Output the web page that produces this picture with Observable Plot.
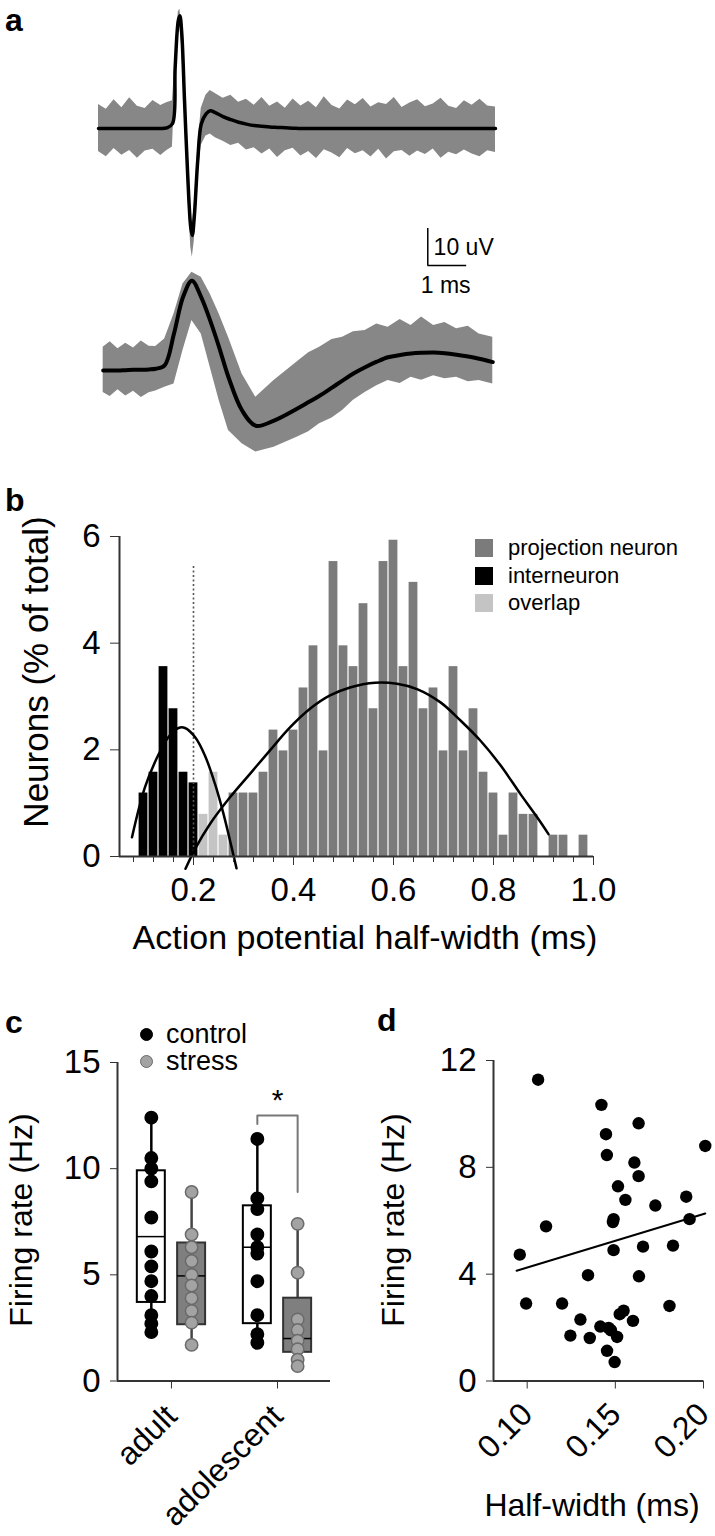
<!DOCTYPE html>
<html><head><meta charset="utf-8">
<script src="https://cdn.jsdelivr.net/npm/d3@7"></script>
<script src="https://cdn.jsdelivr.net/npm/@observablehq/plot@0.6"></script>
<style>
body{margin:0;background:#fff;}
#root{position:relative;width:715px;height:1536px;overflow:hidden;font-family:"Liberation Sans",Arial,sans-serif;color:#000;background:#fff;}
</style></head><body><div id="root"></div>
<script>
// ---------- Panel a: spike waveforms (time in ms, amplitude in uV) ----------
const aTopT    = [0,0.2,0.4,0.6,0.8,1.0,1.2,1.4,1.6,1.75,1.9,1.97,2.05,2.09,2.14,2.21,2.29,2.37,2.41,2.46,2.55,2.64,2.76,2.87,3.0,3.2,3.4,3.6,3.8,4.0,4.2,4.4,4.6,4.8,5.0,5.2,5.4,5.6,5.8,6.0,6.2,6.4,6.6,6.8,7.0,7.2,7.4,7.6,7.8,8.0,8.2,8.4,8.6,8.8,9.0,9.2,9.4,9.6,9.8,10.0,10.2];
const aTopMean = [0,0,0,0,0,0,0,0,0,0.2,1.3,16.6,29.2,30.5,25.6,7.6,-12.2,-26.7,-28.9,-24,-8.6,1.2,3.9,4.8,4.3,3.2,2.4,1.7,1.2,0.8,0.6,0.4,0.3,0.2,0.1,0,0,0,0,0,0,0,0,0,0,0,0,0,0,0,0,0,0,0,0,0,0,0,0,0,0];
const aTopHi   = [6.5,5.2,7.8,5.6,8.3,6.0,5.4,7.6,6.2,7.0,7.5,18.5,31.5,32.3,28.0,10.5,-9.0,-23.5,-26.0,-21.0,-5.0,5.5,9.0,10.3,9.5,8.2,9.0,7.1,7.9,6.3,8.4,6.0,7.2,5.5,8.0,6.1,7.4,5.6,8.6,6.2,5.3,7.7,6.4,8.1,5.8,7.0,6.5,8.4,5.7,6.9,7.8,5.9,6.6,8.2,6.0,5.4,7.5,6.3,7.9,6.1,5.8];
const aTopLo   = [-6.2,-7.6,-5.4,-7.2,-5.9,-8.0,-6.1,-5.6,-7.3,-6.0,-5.0,13.0,26.0,27.5,22.0,4.0,-16.0,-32.0,-34.8,-30.5,-13.0,-4.5,-2.0,-1.5,-2.5,-3.4,-4.6,-4.0,-5.8,-5.2,-6.9,-5.5,-7.8,-6.0,-5.3,-7.4,-6.2,-8.1,-5.7,-6.6,-7.9,-5.4,-6.8,-6.0,-7.7,-5.6,-8.2,-6.3,-5.9,-7.5,-6.1,-7.0,-5.5,-8.0,-6.4,-7.1,-5.8,-6.9,-7.6,-6.0,-6.5];
const aBotT    = [0.12,0.3,0.5,0.7,0.9,1.1,1.3,1.47,1.7,1.94,2.17,2.4,2.64,2.87,3.1,3.34,3.69,4.04,4.51,5.1,5.4,5.68,6.0,6.27,6.55,6.85,7.15,7.44,7.75,8.03,8.3,8.61,8.9,9.2,9.5,9.78,10.13];
const aBotMean = [0,0,0,0.1,0.2,0.2,0.3,0.5,1.4,10,19.8,24.3,19.8,13.5,6.3,-1.8,-10.8,-14.9,-13.5,-10.3,-8.5,-6.8,-4.6,-2.7,-0.8,0.9,2.4,3.6,4.2,4.6,4.8,4.9,4.7,4.3,3.8,3.2,2.3];
const aBotHi   = [6.3,7.8,5.9,7.4,6.1,8.0,6.6,6.5,8.5,15.3,23.4,26.6,25.2,20.7,15.3,9.0,-0.9,-7.2,-2.7,2.3,4.8,6.3,8.4,9.0,10.5,10.8,12.6,11.7,13.8,12.2,14.5,12.2,13.0,11.3,12.0,9.9,9.0];
const aBotLo   = [-5.9,-7.0,-5.2,-6.9,-5.6,-7.3,-6.0,-5.5,-4.5,-3.6,5.4,13.5,9.9,0.9,-8.1,-16.2,-19.8,-22,-20.7,-18,-16.5,-14.4,-12.8,-10.8,-8.0,-5.9,-4.1,-2.7,-3.5,-1.8,-2.6,-1.4,-2.2,-1.8,-3.0,-2.7,-3.6];
const aScaleMs = 1, aScaleUv = 10;

// ---------- Panel b: half-width histogram (% of total) ----------
const interCenters   = [0.10,0.12,0.14,0.16,0.18,0.20];
const interPct       = [1.19,1.58,3.56,2.77,1.58,1.38];
const overlapCenters = [0.22,0.24,0.26];
const overlapPct     = [0.79,1.58,0.40];
const projCenters    = [0.28,0.30,0.32,0.34,0.36,0.38,0.40,0.42,0.44,0.46,0.48,0.50,0.52,0.54,0.56,0.58,0.60,0.62,0.64,0.66,0.68,0.70,0.72,0.74,0.76,0.78,0.80,0.82,0.84,0.86,0.88,0.92,0.94,0.98];
const projPct        = [1.19,1.19,1.19,1.58,2.37,1.98,2.37,3.16,3.95,1.98,5.53,3.95,3.56,4.74,2.77,5.53,5.93,3.56,5.14,2.77,3.16,1.98,3.56,1.98,2.77,1.58,1.19,0.40,1.19,0.79,0.79,0.40,0.40,0.40];
const interFitX = [0.077,0.103,0.131,0.150,0.170,0.183,0.203,0.223,0.243,0.260,0.273,0.286];
const interFitY = [0.36,1.30,1.93,2.24,2.41,2.41,2.24,1.89,1.36,0.80,0.30,-0.22];
const projFitX  = [0.184,0.203,0.233,0.273,0.313,0.353,0.393,0.433,0.473,0.513,0.563,0.607,0.647,0.694,0.734,0.774,0.814,0.854,0.887,0.910];
const projFitY  = [-0.23,0.14,0.61,1.11,1.55,1.99,2.42,2.77,3.02,3.17,3.26,3.24,3.14,2.89,2.55,2.17,1.71,1.17,0.74,0.42];
const cutoffHW = 0.2, cutoffTop = 5.45;
const bXTicks = [0.2,0.4,0.6,0.8,1.0];
const bYTicks = [0,2,4,6];
const bLegend = ["projection neuron","interneuron","overlap"];

// ---------- Panel c: firing rate by age and condition ----------
const cGroups = ["adult","adolescent"];
const cConds  = ["control","stress"];
const cAdultControl = [12.4,10.5,10.0,9.4,7.7,6.1,5.4,4.7,4.0,3.1,2.7,2.3];
const cAdultStress  = [8.9,6.9,6.3,5.65,5.0,4.5,3.9,3.3,2.75,1.7];
const cAdolControl  = [11.4,8.6,8.1,6.9,6.3,6.0,4.7,3.1,2.2,1.8];
const cAdolStress   = [7.4,5.1,2.9,2.4,1.9,1.5,1.0,0.7];
// box stats: adult-control, adult-stress, adolescent-control, adolescent-stress
const cWhiskLo = [2.3,1.7,1.8,0.7];
const cQ1      = [3.7,2.65,2.7,1.35];
const cMed     = [6.8,4.95,6.3,2.0];
const cQ3      = [9.9,6.5,8.25,3.9];
const cWhiskHi = [12.4,8.9,11.4,7.4];
const cSigY    = [12.1,12.5,12.5,8.9];
const cStarY   = 13.2;
const cYTicks  = [0,5,10,15];

// ---------- Panel d: firing rate vs half-width ----------
const dHalfWidth = [0.1062,0.1421,0.1632,0.1447,0.2010,0.1452,0.1608,0.1632,0.1515,0.1557,0.1727,0.1902,0.1490,0.1486,0.1921,0.1107,0.0958,0.1490,0.1657,0.1827,0.1345,0.1634,0.0994,0.1198,0.1807,0.1302,0.1547,0.1600,0.1245,0.1355,0.1415,0.1462,0.1510,0.1453,0.1496,0.1525,0.1475];
const dRate      = [11.28,10.34,9.65,9.24,8.80,8.46,8.18,7.67,7.29,6.78,6.57,6.90,6.06,5.95,6.06,5.79,4.73,4.90,5.03,5.07,3.96,3.92,2.90,2.90,2.81,2.30,2.63,2.25,1.70,1.61,2.04,1.99,1.65,1.13,0.71,2.50,1.90];
const dFitX = [0.094,0.201];
const dFitY = [4.13,6.27];
const dXTicks = [0.10,0.15,0.20];
const dYTicks = [0,4,8,12];

// ================= rendering =================
const root = document.getElementById("root");
const FONT = "Liberation Sans, Arial, sans-serif";
function place(el, left, top){ el.style.position="absolute"; el.style.left=left+"px"; el.style.top=top+"px"; root.appendChild(el); }
function addText(str, x, y, size, o={}){
  const d=document.createElement("div"); d.textContent=str;
  const tx = o.anchor==="start" ? "0" : "-50%";
  d.style.cssText=`position:absolute;left:${x}px;top:${y}px;font-size:${size}px;line-height:1.15;white-space:nowrap;font-weight:${o.bold?"bold":"normal"};transform:translate(${tx},-50%)${o.rotate?` rotate(${o.rotate}deg)`:""};`;
  root.appendChild(d);
}
const AX = "#333";

// ---- panel a ----
{
  const top = aTopT.map((t,i)=>({t, m:aTopMean[i], lo:aTopLo[i], hi:aTopHi[i]}));
  const off = -65.4; // vertical placement of the second unit
  const bot = aBotT.map((t,i)=>({t, m:aBotMean[i]+off, lo:aBotLo[i]+off, hi:aBotHi[i]+off}));
  const sbT = 8.46, sbV = -37;
  const p = Plot.plot({
    width:715, height:470, marginLeft:98, marginRight:220, marginTop:0, marginBottom:0,
    style:{fontFamily:FONT, background:"transparent", overflow:"visible"},
    x:{domain:[0,10.2], axis:null}, y:{domain:[-92.4,34.6], axis:null},
    marks:[
      Plot.areaY(top,{x:"t", y1:"lo", y2:"hi", fill:"#878787"}),
      Plot.line(top,{x:"t", y:"m", stroke:"#000", strokeWidth:3.5, curve:"catmull-rom"}),
      Plot.areaY(bot,{x:"t", y1:"lo", y2:"hi", fill:"#878787"}),
      Plot.line(bot,{x:"t", y:"m", stroke:"#000", strokeWidth:4, curve:"catmull-rom"}),
      Plot.ruleX([sbT],{y1:sbV, y2:sbV+aScaleUv, stroke:"#000", strokeWidth:1.5}),
      Plot.ruleY([sbV],{x1:sbT, x2:sbT+aScaleMs, stroke:"#000", strokeWidth:1.5}),
      Plot.text([aScaleUv+" uV"],{x:sbT+0.15, y:sbV+4.8, textAnchor:"start", fontSize:23}),
      Plot.text([aScaleMs+" ms"],{x:sbT-0.18, y:sbV-5.4, textAnchor:"start", fontSize:23})
    ]
  });
  place(p,0,0);
}

// ---- panel b ----
{
  const bw = 0.02;
  const mk = (cs,ps)=>cs.map((c,i)=>({c, pct:ps[i]}));
  const xDom=[0.052,1.0];
  const p = Plot.plot({
    width:715, height:490, marginLeft:119, marginRight:122, marginTop:66, marginBottom:104,
    style:{fontFamily:FONT, fontSize:"33px", background:"transparent", overflow:"visible"},
    x:{domain:xDom}, y:{domain:[0,6]},
    marks:[
      Plot.rect(mk(projCenters,projPct),{x1:d=>d.c-bw/2, x2:d=>d.c+bw/2, y1:0, y2:"pct", fill:"#7b7b7b", insetLeft:0.6, insetRight:0.6}),
      Plot.rect(mk(overlapCenters,overlapPct),{x1:d=>d.c-bw/2, x2:d=>d.c+bw/2, y1:0, y2:"pct", fill:"#c4c4c4", insetLeft:0.6, insetRight:0.6}),
      Plot.rect(mk(interCenters,interPct),{x1:d=>d.c-bw/2, x2:d=>d.c+bw/2, y1:0, y2:"pct", fill:"#000", insetLeft:0.6, insetRight:0.6}),
      Plot.ruleX([cutoffHW],{y1:0, y2:cutoffTop, stroke:"#555", strokeWidth:1.6, strokeDasharray:"2,2.5"}),
      Plot.line(interFitX.map((x,i)=>({x, y:interFitY[i]})),{x:"x", y:"y", stroke:"#000", strokeWidth:2.5, curve:"catmull-rom"}),
      Plot.line(projFitX.map((x,i)=>({x, y:projFitY[i]})),{x:"x", y:"y", stroke:"#000", strokeWidth:2.5, curve:"catmull-rom"}),
      Plot.ruleY([0],{stroke:AX, strokeWidth:2}),
      Plot.ruleX([xDom[0]],{y1:0, y2:6, stroke:AX, strokeWidth:2}),
      Plot.axisY({ticks:bYTicks, tickFormat:d3.format("d"), tickSize:9, tickPadding:10, label:null, stroke:AX}),
      Plot.axisX({ticks:bXTicks, tickFormat:d3.format(".1f"), tickSize:9, tickPadding:12, label:null, stroke:AX}),
      Plot.axisX({ticks:d3.range(0.08,1.0,0.04), tickFormat:()=>"", tickSize:6, label:null, stroke:AX})
    ]
  });
  place(p,0,470);
  addText("Neurons (% of total)", 36, 672, 35, {rotate:-90});
  addText("Action potential half-width (ms)", 365, 938, 34);
  const cols=["#7b7b7b","#000","#c4c4c4"];
  bLegend.forEach((s,i)=>{
    const sw=document.createElement("div");
    sw.style.cssText=`width:18px;height:18px;background:${cols[i]};`;
    place(sw,475,548+i*27.5-9);
    addText(s,508,548+i*27.5,22,{anchor:"start"});
  });
}

// ---- panel c ----
{
  const condOff=[-0.19,0.19], half=0.132;
  const series=[cAdultControl,cAdultStress,cAdolControl,cAdolStress];
  const boxes=series.map((v,k)=>{const g=Math.floor(k/2), c=k%2; return {g, c, pos:g+condOff[c], lo:cWhiskLo[k], q1:cQ1[k], med:cMed[k], q3:cQ3[k], hi:cWhiskHi[k]};});
  const pts=[]; series.forEach((v,k)=>v.forEach(val=>pts.push({pos:boxes[k].pos, c:boxes[k].c, val})));
  const br=[boxes[2].pos,boxes[2].pos,boxes[3].pos,boxes[3].pos].map((x,i)=>({x, y:cSigY[i]}));
  const xDom=[-0.509,1.5];
  const p = Plot.plot({
    width:360, height:576, marginLeft:117, marginRight:30, marginTop:102, marginBottom:155.5,
    style:{fontFamily:FONT, fontSize:"33px", background:"transparent", overflow:"visible"},
    x:{domain:xDom}, y:{domain:[0,15]},
    marks:[
      Plot.ruleX(boxes,{x:"pos", y1:"lo", y2:"q1", stroke:d=>d.c?"#444":"#000", strokeWidth:2.5}),
      Plot.ruleX(boxes,{x:"pos", y1:"q3", y2:"hi", stroke:d=>d.c?"#444":"#000", strokeWidth:2.5}),
      Plot.rect(boxes,{x1:d=>d.pos-half, x2:d=>d.pos+half, y1:"q1", y2:"q3", fill:d=>d.c?"#7f7f7f":"#fff", stroke:d=>d.c?"#333":"#000", strokeWidth:2}),
      Plot.ruleY(boxes,{x1:d=>d.pos-half, x2:d=>d.pos+half, y:"med", stroke:"#000", strokeWidth:1.5}),
      Plot.dot(pts,{x:"pos", y:"val", r:6.2, fill:d=>d.c?"#a3a3a3":"#000", stroke:d=>d.c?"#6a6a6a":"#000", strokeWidth:1.5}),
      Plot.line(br,{x:"x", y:"y", stroke:"#777", strokeWidth:2}),
      Plot.text(["*"],{x:(boxes[2].pos+boxes[3].pos)/2, y:cStarY, fontSize:30}),
      Plot.ruleY([0],{stroke:AX, strokeWidth:2}),
      Plot.ruleX([xDom[0]],{y1:0, y2:15, stroke:AX, strokeWidth:2}),
      Plot.axisY({ticks:cYTicks, tickSize:7, tickPadding:10, label:null, stroke:AX}),
      Plot.axisX({ticks:[0,1], tickFormat:i=>cGroups[i], tickRotate:-45, tickSize:8, tickPadding:22, label:null, stroke:AX, fontSize:32})
    ]
  });
  place(p,0,960);
  addText("Firing rate (Hz)", 21, 1220, 32, {rotate:-90});
  [["#000","#000"],["#a3a3a3","#6a6a6a"]].forEach(([f,s],i)=>{
    const dd=document.createElement("div");
    dd.style.cssText=`width:11px;height:11px;border-radius:50%;background:${f};border:1.5px solid ${s};`;
    place(dd,140,1035+i*27-7);
    addText(cConds[i],166,1035+i*27,27,{anchor:"start"});
  });
}

// ---- panel d ----
{
  const pts=dHalfWidth.map((x,i)=>({x, y:dRate[i]}));
  const xDom=[0.0809,0.20];
  const p = Plot.plot({
    width:355, height:576, marginLeft:133, marginRight:12, marginTop:100, marginBottom:155.5,
    style:{fontFamily:FONT, fontSize:"33px", background:"transparent", overflow:"visible"},
    x:{domain:xDom}, y:{domain:[0,12]},
    marks:[
      Plot.dot(pts,{x:"x", y:"y", r:6.2, fill:"#000"}),
      Plot.line(dFitX.map((x,i)=>({x, y:dFitY[i]})),{x:"x", y:"y", stroke:"#000", strokeWidth:2}),
      Plot.ruleY([0],{stroke:AX, strokeWidth:2}),
      Plot.ruleX([xDom[0]],{y1:0, y2:12, stroke:AX, strokeWidth:2}),
      Plot.axisY({ticks:dYTicks, tickSize:7, tickPadding:10, label:null, stroke:AX}),
      Plot.axisX({ticks:dXTicks, tickFormat:d3.format(".2f"), tickRotate:-45, tickSize:8, tickPadding:20, label:null, stroke:AX, fontSize:32})
    ]
  });
  place(p,360,960);
  addText("Firing rate (Hz)", 393, 1220, 32, {rotate:-90});
  addText("Half-width (ms)", 592, 1505, 32);
}

// panel letters
addText("a",5,20,32,{bold:true,anchor:"start"});
addText("b",5,500,32,{bold:true,anchor:"start"});
addText("c",5,1022,32,{bold:true,anchor:"start"});
addText("d",377,1020,32,{bold:true,anchor:"start"});
</script></body></html>
